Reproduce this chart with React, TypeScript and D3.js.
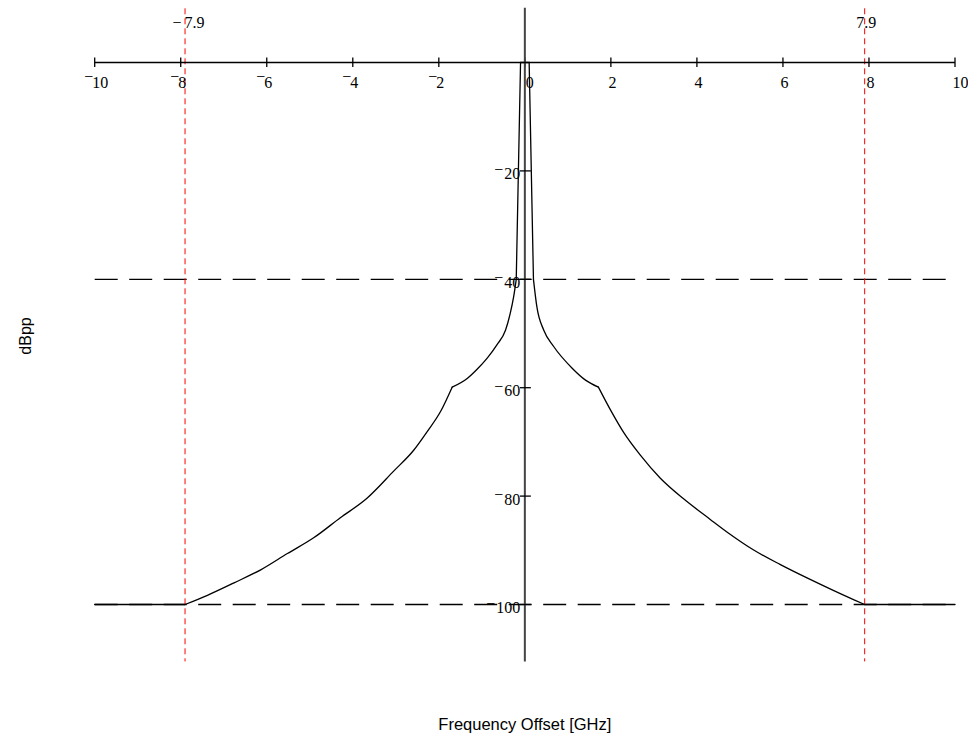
import React, { useEffect, useRef } from 'react';
import * as d3 from 'd3';

// spectrum mask (GHz, dBpp)
const freq = [-10, -7.9, -7.38, -6.76, -6.14, -5.52, -4.91, -4.29, -3.67, -3.05, -2.58, -2.27, -1.96,
  -1.69, -1.34, -1.11, -0.88, -0.65, -0.45, -0.34, -0.26, -0.2, -0.1, 0.1, 0.2, 0.28, 0.44, 0.67,
  1.1, 1.41, 1.71, 1.99, 2.3, 2.68, 3.15, 3.69, 4.31, 4.73, 5.31, 5.93, 6.56, 7.17, 7.64, 7.9, 10];
const level = [-100, -100, -98.3, -96.0, -93.6, -90.6, -87.7, -84.0, -80.4, -75.4, -71.5, -68.1, -64.4,
  -59.9, -58.3, -56.6, -54.6, -52.1, -49.4, -46.3, -43.2, -40, 0, 0, -40, -45.1, -49.4, -52.4,
  -56.4, -58.6, -59.9, -64.1, -68.3, -72.4, -76.7, -80.5, -84.3, -86.8, -89.9, -92.6, -95.1, -97.4,
  -99.1, -100, -100];
// corners of the mask where the curve is not smooth
const kinks = [-7.9, -1.69, -0.2, 0.2, 1.71, 7.9];

const xTicks = [-10, -8, -6, -4, -2, 0, 2, 4, 6, 8, 10];
const yTicks = [-20, -40, -60, -80, -100];
const limitLevels = [-40, -100];
const bandEdges = [-7.9, 7.9];

const serif = '"Liberation Serif", "Times New Roman", serif';
const sans = '"Liberation Sans", Arial, sans-serif';

export default function App() {
  const ref = useRef<SVGSVGElement>(null);

  useEffect(() => {
    const svg = d3.select(ref.current);
    svg.selectAll('*').remove();

    const x = d3.scaleLinear().domain([-10, 10]).range([94.7, 955]);
    const y = d3.scaleLinear().domain([0, -100]).range([62.5, 604.5]);

    // limit lines
    svg.selectAll('.limit').data(limitLevels).enter().append('line')
      .attr('class', 'limit')
      .attr('x1', x(-10)).attr('x2', x(10))
      .attr('y1', d => y(d)).attr('y2', d => y(d))
      .attr('stroke', '#000').attr('stroke-width', 1.3)
      .attr('stroke-dasharray', '23,11.5');

    // band edges
    svg.selectAll('.edge').data(bandEdges).enter().append('line')
      .attr('class', 'edge')
      .attr('x1', d => x(d)).attr('x2', d => x(d))
      .attr('y1', y(10)).attr('y2', y(-110.5))
      .attr('stroke', '#ff0000').attr('stroke-width', 1)
      .attr('stroke-dasharray', '6,4');

    // x axis
    svg.append('line')
      .attr('x1', x(-10)).attr('x2', x(10))
      .attr('y1', y(0)).attr('y2', y(0))
      .attr('stroke', '#000').attr('stroke-width', 1.3);

    svg.selectAll('.xtick').data(xTicks).enter().append('line')
      .attr('class', 'xtick')
      .attr('x1', d => x(d)).attr('x2', d => x(d))
      .attr('y1', y(0) - 5).attr('y2', y(0) + 4.5)
      .attr('stroke', '#000').attr('stroke-width', 1.3);

    const xl = svg.selectAll('.xlabel').data(xTicks).enter().append('g')
      .attr('class', 'xlabel')
      .attr('font-family', serif).attr('font-size', 16).attr('fill', '#000');
    xl.filter(d => d < 0).append('text')
      .attr('x', d => x(d) - 1.5).attr('y', 81.5)
      .attr('text-anchor', 'end')
      .text('\u2212');
    xl.append('text')
      .attr('x', d => x(d) + (d === 0 ? 1 : -2.5))
      .attr('y', 87.5)
      .text(d => String(Math.abs(d)));

    // y axis
    svg.append('line')
      .attr('x1', x(0)).attr('x2', x(0))
      .attr('y1', y(10.1)).attr('y2', y(-110.5))
      .attr('stroke', '#444').attr('stroke-width', 2);

    svg.selectAll('.ytick').data(yTicks).enter().append('line')
      .attr('class', 'ytick')
      .attr('x1', x(0) - 5).attr('x2', x(0) + 6)
      .attr('y1', d => y(d)).attr('y2', d => y(d))
      .attr('stroke', '#000').attr('stroke-width', 1.3);

    const yl = svg.selectAll('.ylabel').data(yTicks).enter().append('text')
      .attr('class', 'ylabel')
      .attr('x', x(0) - 4.5).attr('y', d => y(d) + 8.5)
      .attr('text-anchor', 'end')
      .attr('font-family', serif).attr('font-size', 16).attr('fill', '#000');
    yl.append('tspan').attr('dy', -4.5).text('\u2212');
    yl.append('tspan').attr('dx', 1).attr('dy', 4.5).text(d => String(Math.abs(d)));

    // spectrum curve, smooth between corners, straight through the carrier spike
    const pts = freq.map((f, i) => [f, level[i]] as [number, number]);
    const bounds = [-10, ...kinks, 10];
    const smooth = d3.line<[number, number]>().x(d => x(d[0])).y(d => y(d[1])).curve(d3.curveMonotoneX);
    const straight = d3.line<[number, number]>().x(d => x(d[0])).y(d => y(d[1]));
    const runs = d3.pairs(bounds).map(([a, b]) => pts.filter(p => p[0] >= a && p[0] <= b));
    svg.selectAll('.mask').data(runs).enter().append('path')
      .attr('class', 'mask')
      .attr('d', r => (r[0][0] === -0.2 ? straight(r) : smooth(r)))
      .attr('fill', 'none')
      .attr('stroke', '#000').attr('stroke-width', 1.3)
      .attr('stroke-linecap', 'round');

    // band edge labels
    const top = svg.append('g').attr('font-family', serif).attr('font-size', 16).attr('fill', '#000');
    top.append('text').attr('x', x(-7.9) - 3.5).attr('y', 28).attr('text-anchor', 'end').text('\u2212');
    top.append('text').attr('x', x(-7.9) - 0.5).attr('y', 28).text('7.9');
    top.append('text').attr('x', x(7.9) - 8.5).attr('y', 28).text('7.9');

    // axis titles
    svg.append('text')
      .attr('x', x(0)).attr('y', 730)
      .attr('text-anchor', 'middle')
      .attr('font-family', sans).attr('font-size', 16.5)
      .text('Frequency Offset [GHz]');
    svg.append('text')
      .attr('transform', 'translate(31,336) rotate(-90)')
      .attr('text-anchor', 'middle')
      .attr('font-family', sans).attr('font-size', 16)
      .text('dBpp');
  }, []);

  return (
    <div>
      <style>{'body{margin:0}'}</style>
      <svg ref={ref} width={968} height={738} style={{ display: 'block', background: '#fff' }} />
    </div>
  );
}
